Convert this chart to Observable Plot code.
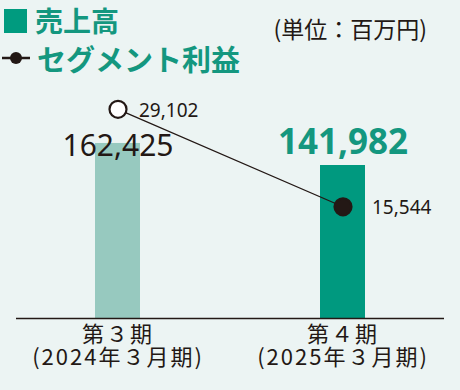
<!DOCTYPE html>
<html><head><meta charset="utf-8">
<script src="https://cdn.jsdelivr.net/npm/d3@7"></script>
<script src="https://cdn.jsdelivr.net/npm/@observablehq/plot@0.6"></script>
<style>
html,body{margin:0;padding:0;background:#ECF4F3;}
#wrap{position:relative;width:460px;height:390px;overflow:hidden;font-family:'Noto Sans CJK JP','Noto Sans',sans-serif;}
#chart{position:absolute;left:0;top:0;}
.lg{position:absolute;white-space:nowrap;}
#sq{left:4px;top:9px;width:23px;height:24px;background:#009B7F;}
#t1{left:35px;top:4px;font-size:28px;line-height:32px;font-weight:700;color:#14977F;}
#mk{left:0;top:50px;}
#t2{left:37px;top:42px;font-size:29px;line-height:33px;font-weight:700;color:#14977F;}
#unit{right:33px;top:12px;font-size:23px;line-height:32px;color:#231815;}
g[aria-label="x-axis tick label"] text{letter-spacing:2px;}
</style></head><body>
<div id="wrap">
<div id="chart"></div>
<div class="lg" id="sq"></div>
<div class="lg" id="t1">売上高</div>
<svg class="lg" id="mk" width="34" height="16"><line x1="2" x2="30" y1="8" y2="8" stroke="#231815" stroke-width="2.5"/><circle cx="16" cy="8" r="6" fill="#231815"/></svg>
<div class="lg" id="t2">セグメント利益</div>
<div class="lg" id="unit">(単位：百万円)</div>
</div>
<script>
const periods = ["第３期", "第４期"];
const fiscalYears = ["(2024年３月期)", "(2025年３月期)"];
const sales = [162425, 141982];
const segmentProfit = [29102, 15544];
const salesColors = ["#97C9BF", "#00997F"];
const profitDotFill = ["#FFFFFF", "#231815"];
// secondary (profit) axis drawn at this ratio to the sales axis
const profitAxisRatio = 6.67;

const data = periods.map((p, i) => ({period: p, sales: sales[i], profit: segmentProfit[i], i}));
const fmt = d3.format(",");
const ink = "#231815";

const chart = Plot.plot({
  width: 460,
  height: 390,
  marginTop: 18,
  marginBottom: 72,
  marginLeft: 16,
  marginRight: 16,
  style: {background: "transparent", fontFamily: "'Noto Sans','Noto Sans CJK JP',sans-serif", color: ink},
  x: {domain: periods, paddingInner: 0.8, paddingOuter: 0.348, label: null},
  y: {domain: [0, 278400], axis: null},
  color: {domain: periods, range: salesColors},
  marks: [
    Plot.barY(data, {x: "period", y: "sales", fill: "period"}),
    Plot.ruleY([0], {stroke: ink, strokeWidth: 1.6}),
    Plot.axisX({tickSize: 0, tickPadding: 7, fontSize: 22, lineHeight: 1.05, fill: ink,
      fontFamily: "'Noto Sans CJK JP',sans-serif",
      tickFormat: d => d + "\n" + fiscalYears[periods.indexOf(d)], label: null}),
    Plot.text(data.filter(d => d.i === 0), {x: "period", text: d => fmt(d.sales), frameAnchor: "top", lineAnchor: "bottom", dy: 137, fontSize: 30, fill: ink}),
    Plot.text(data.filter(d => d.i === 1), {x: "period", text: d => fmt(d.sales), frameAnchor: "top", lineAnchor: "bottom", dy: 135, fontSize: 35, fontWeight: 700, fill: "#14977F"}),
    Plot.lineY(data, {x: "period", y: d => d.profit * profitAxisRatio, stroke: ink, strokeWidth: 1.3}),
    Plot.dot(data, {x: "period", y: d => d.profit * profitAxisRatio, r: 8.5, fill: d => profitDotFill[d.i], stroke: ink, strokeWidth: 2.2}),
    Plot.text(data.filter(d => d.i === 0), {x: "period", y: d => d.profit * profitAxisRatio, text: d => fmt(d.profit), textAnchor: "start", lineAnchor: "bottom", dx: 21, dy: 7.5, fontSize: 19, fill: ink}),
    Plot.text(data.filter(d => d.i === 1), {x: "period", y: d => d.profit * profitAxisRatio, text: d => fmt(d.profit), textAnchor: "start", lineAnchor: "bottom", dx: 29, dy: 7.5, fontSize: 19, fill: ink})
  ]
});
document.getElementById("chart").appendChild(chart);
</script>
</body></html>
